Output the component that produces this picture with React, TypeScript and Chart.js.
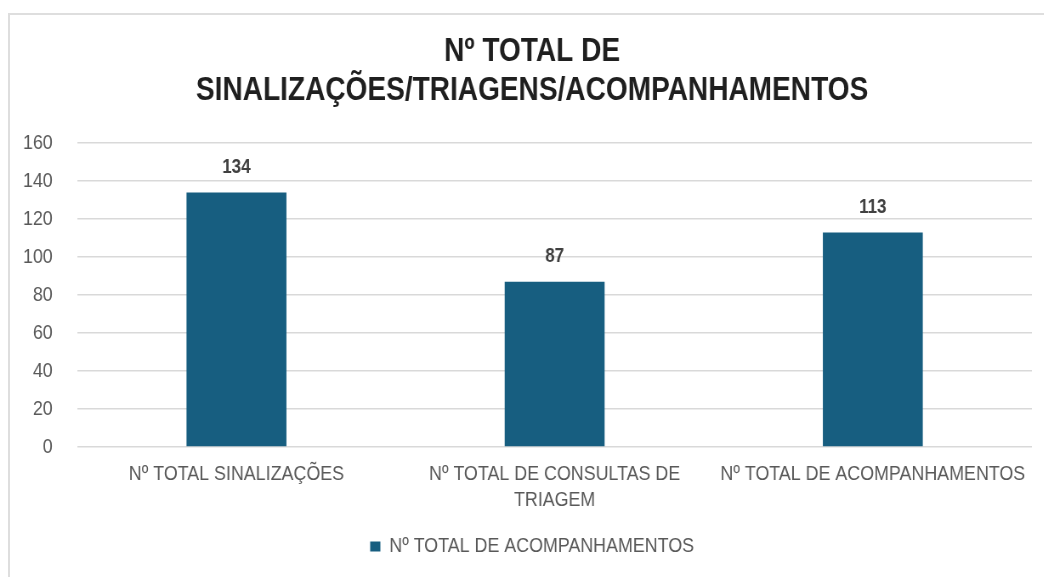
import React, { useEffect, useRef } from "react";
import { Chart, registerables } from "chart.js";

Chart.register(...registerables);

const categories: (string | string[])[] = [
  "Nº TOTAL SINALIZAÇÕES",
  ["Nº TOTAL DE CONSULTAS DE", "TRIAGEM"],
  "Nº TOTAL DE ACOMPANHAMENTOS",
];
const seriesName = "Nº TOTAL DE ACOMPANHAMENTOS";
const values = [134, 87, 113];
const titleLines = ["Nº TOTAL DE", "SINALIZAÇÕES/TRIAGENS/ACOMPANHAMENTOS"];
const yMin = 0;
const yMax = 160;
const yStep = 20;

const FONT = '"Liberation Sans", Arial, sans-serif';
const BAR = "#175e80";
const SX = 0.85; // horizontal condensing, mimics a narrow font
const CW = Math.round(1044 / SX);

const dataLabels = {
  id: "dataLabels",
  afterDatasetsDraw(chart: any) {
    const ctx = chart.ctx;
    const meta = chart.getDatasetMeta(0);
    ctx.save();
    ctx.font = `bold 20px ${FONT}`;
    ctx.fillStyle = "#404040";
    ctx.textAlign = "center";
    ctx.textBaseline = "middle";
    meta.data.forEach((el: any, i: number) => {
      ctx.fillText(String(chart.data.datasets[0].data[i]), el.x, el.y - 25);
    });
    ctx.restore();
  },
};

// shift the centred title and legend slightly right, as in the reference
const centreShift = {
  id: "centreShift",
  afterLayout(chart: any) {
    [chart.titleBlock, chart.legend].forEach((b: any) => {
      if (b) b.left += 18;
    });
  },
};

export default function App() {
  const ref = useRef<HTMLCanvasElement | null>(null);
  useEffect(() => {
    if (!ref.current) return;
    const chart = new Chart(ref.current, {
      type: "bar",
      data: {
        labels: categories,
        datasets: [
          {
            label: seriesName,
            data: values,
            backgroundColor: BAR,
            borderWidth: 0,
            barPercentage: 0.314,
            categoryPercentage: 1,
          },
        ],
      },
      options: {
        animation: false,
        responsive: false,
        layout: { padding: { left: 20, right: 14, top: 0, bottom: 10 } },
        plugins: {
          title: {
            display: true,
            text: titleLines,
            color: "#1f1f1f",
            font: { family: FONT, size: 33, weight: "bold", lineHeight: 1.2 },
            padding: { top: 32, bottom: 32 },
          },
          legend: {
            position: "bottom",
            labels: {
              boxWidth: 12,
              boxHeight: 10,
              color: "#595959",
              font: { family: FONT, size: 21 },
            },
          },
          tooltip: { enabled: false },
        },
        scales: {
          x: {
            grid: { display: false, drawTicks: false },
            border: { display: false },
            ticks: {
              color: "#595959",
              font: { family: FONT, size: 21, lineHeight: 1.2 },
              padding: 15,
              maxRotation: 0,
              autoSkip: false,
            },
            afterFit: (s: any) => {
              s.height = 79;
            },
          },
          y: {
            min: yMin,
            max: yMax,
            grid: { color: "#d9d9d9", lineWidth: 1.5, drawTicks: false },
            border: { display: false },
            ticks: {
              stepSize: yStep,
              color: "#595959",
              font: { family: FONT, size: 21 },
              padding: 29,
            },
            afterFit: (s: any) => {
              s.width = 71;
            },
          },
        },
      },
      plugins: [dataLabels, centreShift],
    });
    return () => chart.destroy();
  }, []);

  return (
    <div
      style={{
        position: "fixed",
        left: 0,
        top: 0,
        width: 1044,
        height: 577,
        overflow: "hidden",
        background: "#ffffff",
      }}
    >
      <div
        style={{
          position: "absolute",
          left: 8,
          top: 13,
          width: 1100,
          height: 700,
          border: "2px solid #dedede",
          boxSizing: "border-box",
        }}
      />
      <div
        style={{
          position: "absolute",
          left: 0,
          top: 0,
          width: CW,
          height: 577,
          transform: `scaleX(${SX})`,
          transformOrigin: "0 0",
        }}
      >
        <canvas ref={ref} width={CW} height={577} style={{ display: "block" }} />
      </div>
    </div>
  );
}
